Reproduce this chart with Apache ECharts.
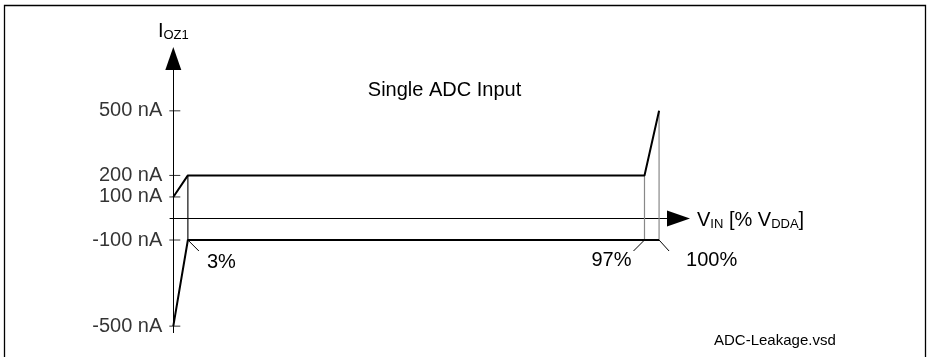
<!DOCTYPE html>
<html><head><meta charset="utf-8">
<script src="https://cdn.jsdelivr.net/npm/echarts@6/dist/echarts.min.js"></script>
<style>html,body{margin:0;padding:0;background:#fff}#c{width:928px;height:357px}</style>
</head><body><div id="c"></div>
<script>
// ---- data ----
const tickValues = [500, 200, 100, -100, -500];          // nA
const upperCurve = [[0, 100], [3, 200], [97, 200], [100, 500]];
const lowerCurve = [[0, -500], [3, -100], [100, -100]];
const markerX = [3, 97, 100];                             // % VDDA
const markerTop = [200, 200, 500];
const markerBottom = -100;
const percentLabels = ['3%', '97%', '100%'];
const titleText = 'Single ADC Input';
const fileText = 'ADC-Leakage.vsd';

// ---- styling ----
const FONT = '"Liberation Sans", Arial, sans-serif';
const FS = 20;
const markerColors = ['#111', '#888', '#888'];
const annStyle = [
  { lx: 11, ly: 11, tx: 19, ty: 22, align: 'left' },
  { lx: -11, ly: 11, tx: -13, ty: 20, align: 'right' },
  { lx: 10, ly: 11, tx: 27, ty: 20, align: 'left' }
];

const chart = echarts.init(document.getElementById('c'), null, { renderer: 'canvas' });

const series = [];
markerX.forEach((x, i) => {
  series.push({
    type: 'line', data: [[x, markerTop[i]], [x, markerBottom]],
    symbol: 'none', lineStyle: { color: markerColors[i], width: 1.2 }, z: 2, silent: true
  });
});
series.push({
  type: 'line', data: upperCurve, symbol: 'none',
  lineStyle: { color: '#000', width: 2 }, z: 3, silent: true
});
series.push({
  type: 'line', data: lowerCurve, symbol: 'none',
  lineStyle: { color: '#000', width: 2 }, z: 3, silent: true
});
series.push({
  type: 'scatter', data: tickValues.map(v => [0, v]),
  symbol: 'rect', symbolSize: [11, 1], symbolOffset: [1.5, 0],
  itemStyle: { color: '#000' }, z: 4, silent: true,
  label: {
    show: true, position: 'left', distance: 7,
    formatter: p => p.value[1] + ' nA',
    fontSize: FS, fontFamily: FONT, color: '#000'
  }
});
series.push({
  type: 'custom', clip: false, z: 4, silent: true,
  data: markerX.map((x, i) => [x, markerBottom, i]),
  renderItem: function (params, api) {
    const idx = api.value(2);
    const p = api.coord([api.value(0), api.value(1)]);
    const s = annStyle[idx];
    return {
      type: 'group',
      children: [
        { type: 'line', shape: { x1: p[0], y1: p[1], x2: p[0] + s.lx, y2: p[1] + s.ly },
          style: { stroke: '#000', lineWidth: 1 } },
        { type: 'text', style: { text: percentLabels[idx], x: p[0] + s.tx, y: p[1] + s.ty,
          align: s.align, verticalAlign: 'middle', font: FS + 'px ' + FONT, fill: '#000' } }
      ]
    };
  }
});

chart.setOption({
  animation: false,
  backgroundColor: '#fff',
  grid: { left: 170, right: 249.5, top: 58.5, bottom: 24.4, containLabel: false, outerBoundsMode: 'none' },
  xAxis: {
    type: 'value', min: -0.68, max: 104,
    axisLine: { show: true, onZero: true, lineStyle: { color: '#000', width: 1 },
      symbol: ['none', 'triangle'], symbolSize: [16, 23] },
    axisTick: { show: false }, axisLabel: { show: false }, splitLine: { show: false },
    name: '{b|V}{s|IN}{b| [% V}{s|DDA}{b|]}',
    nameLocation: 'end', nameGap: 18.5,
    nameTextStyle: {
      padding: [5, 0, 0, 0],
      rich: {
        b: { fontSize: FS, fontFamily: FONT, color: '#000', verticalAlign: 'bottom' },
        s: { fontSize: 13, fontFamily: FONT, color: '#000', verticalAlign: 'bottom' }
      }
    }
  },
  yAxis: {
    type: 'value', min: -530, max: 743,
    axisLine: { show: true, onZero: true, lineStyle: { color: '#000', width: 1 },
      symbol: ['none', 'triangle'], symbolSize: [16, 23] },
    axisTick: { show: false }, axisLabel: { show: false }, splitLine: { show: false },
    name: '{b|I}{s|OZ1}',
    nameLocation: 'end', nameGap: 17,
    nameTextStyle: {
      rich: {
        b: { fontSize: FS, fontFamily: FONT, color: '#000', verticalAlign: 'bottom' },
        s: { fontSize: 13, fontFamily: FONT, color: '#000', verticalAlign: 'bottom' }
      }
    }
  },
  graphic: [
    { type: 'rect', shape: { x: 4.5, y: 5.5, width: 921, height: 420 },
      style: { fill: 'none', stroke: '#000', lineWidth: 1.3 }, silent: true },
    { type: 'text', x: 444.5, y: 90, style: { text: titleText, font: FS + 'px ' + FONT,
      fill: '#000', align: 'center', verticalAlign: 'middle' }, silent: true },
    { type: 'text', x: 714, y: 341, style: { text: fileText, font: '15px ' + FONT,
      fill: '#000', align: 'left', verticalAlign: 'middle' }, silent: true }
  ],
  series: series
});
</script>
</body></html>
